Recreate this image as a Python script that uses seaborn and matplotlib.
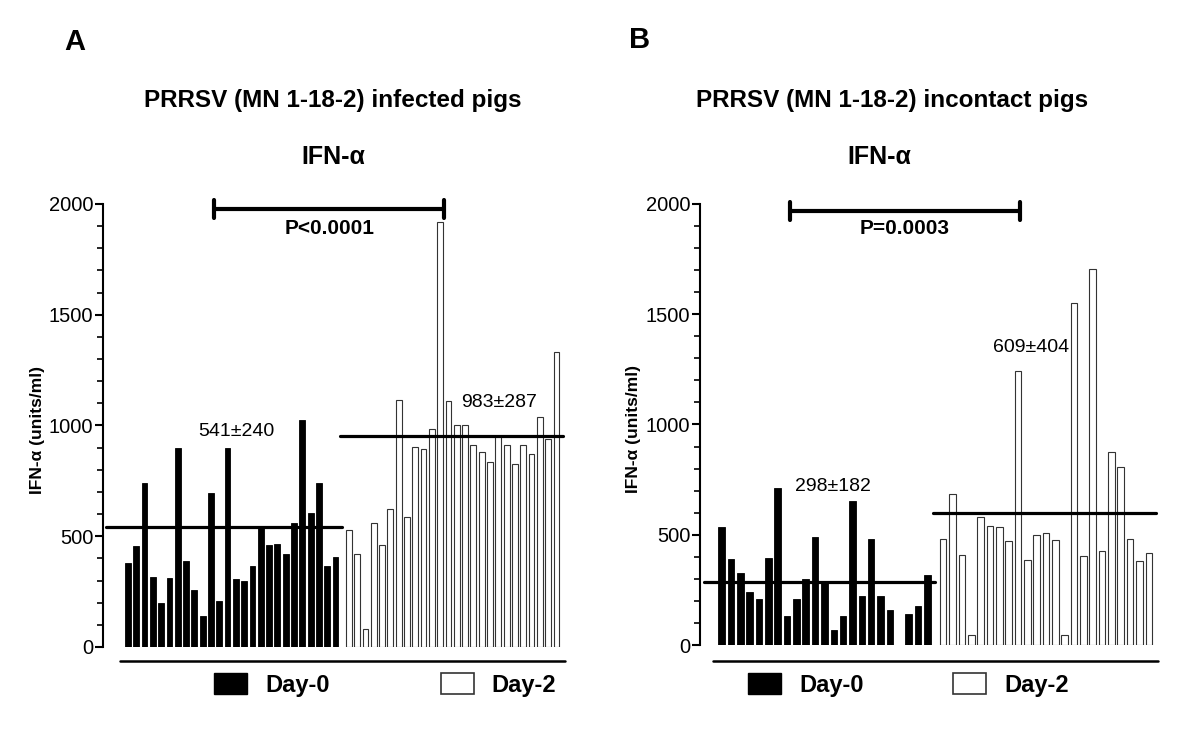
import numpy as np
import pandas as pd
import seaborn as sns
import matplotlib.pyplot as plt
from matplotlib.patches import Patch
from matplotlib.ticker import MultipleLocator

sns.set_style('white')
plt.rcParams['font.family'] = ['Liberation Sans', 'DejaVu Sans']
for k in ('text.color', 'axes.labelcolor', 'xtick.color', 'ytick.color'):
    plt.rcParams[k] = 'black'

# ---- data (units/ml) ----
a_day0 = [381, 456, 739, 318, 200, 313, 900, 389, 256, 140, 693, 208, 899,
          309, 297, 364, 539, 459, 464, 419, 562, 1027, 605, 742, 364, 405]
a_day2 = [527, 419, 83, 559, 462, 625, 1117, 587, 902, 895, 982, 1917, 1111,
          1000, 1000, 911, 882, 834, 952, 911, 825, 911, 869, 1039, 937, 1330]
b_day0 = [534, 389, 328, 239, 209, 396, 711, 133, 210, 299, 491, 280, 68,
          132, 655, 224, 479, 224, 159, np.nan, 142, 175, 316]
b_day2 = [479, 683, 407, 45, 580, 538, 535, 472, 1241, 384, 497, 506, 475,
          45, 1551, 402, 1707, 425, 877, 809, 482, 380, 416]

a_lines = [540, 953]          # horizontal group lines as drawn
b_lines = [287, 597]
a_stats = ['541±240', '983±287']
b_stats = ['298±182', '609±404']
a_p = 'P<0.0001'
b_p = 'P=0.0003'
titles = ['PRRSV (MN 1-18-2) infected pigs', 'PRRSV (MN 1-18-2) incontact pigs']
letters = ['A', 'B']

fig = plt.figure(figsize=(12, 7.29), dpi=100)


def panel(rect, d0, d2, gap, lines, stats, stat_pos, ptxt, pbar, xlim, base, ylab_x):
    ax = fig.add_axes(rect)
    n0 = len(d0)
    x0 = np.arange(n0, dtype=float)
    x2 = n0 - 1 + gap + np.arange(len(d2), dtype=float)
    df0 = pd.DataFrame({'x': x0, 'y': d0}).dropna()
    df2 = pd.DataFrame({'x': x2, 'y': d2})
    sns.barplot(data=df0, x='x', y='y', native_scale=True, color='black',
                saturation=1, width=0.7, errorbar=None, ax=ax,
                edgecolor='black', linewidth=0.6)
    sns.barplot(data=df2, x='x', y='y', native_scale=True, color='white',
                saturation=1, width=0.7, errorbar=None, ax=ax,
                edgecolor='#333333', linewidth=0.8)

    # group lines
    ax.plot([xlim[0] + 0.4, x0[-1] + 0.8], [lines[0]] * 2, color='black', lw=2.3, zorder=5)
    ax.plot([x2[0] - 1.1, x2[-1] + 0.8], [lines[1]] * 2, color='black', lw=2.3, zorder=5)

    for s, (sx, sy) in zip(stats, stat_pos):
        ax.text(sx, sy, s, ha='center', va='center', fontsize=14)

    # significance bracket
    xa, xb, yb = pbar
    ax.plot([xa, xb], [yb, yb], color='black', lw=3, clip_on=False, solid_capstyle='butt')
    for xx in (xa, xb):
        ax.plot([xx, xx], [yb - 40, yb + 40], color='black', lw=3, clip_on=False)
    ax.text((xa + xb) / 2, 1890, ptxt, ha='center', va='center',
            fontsize=15, fontweight='bold')

    ax.set_xlim(*xlim)
    ax.set_ylim(0, 2000)
    ax.yaxis.set_major_locator(MultipleLocator(500))
    ax.yaxis.set_minor_locator(MultipleLocator(100))
    ax.tick_params(axis='y', which='major', length=6, width=1.5, labelsize=14.5,
                   direction='out', left=True, pad=1)
    ax.tick_params(axis='y', which='minor', length=4, width=1.2, direction='out', left=True)
    ax.set_xticks([])
    ax.set_xlabel('')
    ax.set_ylabel('IFN-α (units/ml)', fontsize=12.5, fontweight='bold')
    ax.yaxis.set_label_coords(ylab_x, 0.49)
    for side in ('top', 'right', 'bottom'):
        ax.spines[side].set_visible(False)
    ax.spines['left'].set_linewidth(1.5)
    ax.spines['left'].set_color('black')

    # detached baseline under the bars
    ax.plot(base[:2], [base[2]] * 2, color='black', lw=1.8,
            transform=ax.transAxes, clip_on=False)
    return ax


axA = panel([0.0858, 0.1125, 0.3883, 0.6077], a_day0, a_day2, 1.6, a_lines,
            a_stats, [(13.1, 975), (44.7, 1106)], a_p, (10.4, 38.1, 1977),
            (-3.0, 53.1), (0.036, 0.991, -0.032), -0.125)
axB = panel([0.5833, 0.1152, 0.3833, 0.605], b_day0, b_day2, 1.71, b_lines,
            b_stats, [(11.9, 721), (33.1, 1351)], b_p, (7.3, 31.9, 1968),
            (-2.32, 46.9), (0.028, 0.996, -0.036), -0.128)

handles = [Patch(facecolor='black', edgecolor='black'),
           Patch(facecolor='white', edgecolor='#333333', linewidth=1.2)]
for cx, cs in ((0.321, 4.7), (0.757, 3.8)):
    fig.legend(handles, ['Day-0', 'Day-2'], loc='center', ncol=2,
               bbox_to_anchor=(cx, 1 - 685 / 729), frameon=False,
               prop={'size': 17, 'weight': 'bold'}, handlelength=1.4,
               handleheight=0.95, handletextpad=0.75, columnspacing=cs)

for x, t in zip((0.2775, 0.743), titles):
    fig.text(x, 0.8628, t, ha='center', va='center', fontsize=17.5,
             fontweight='bold')
for x in (0.2775, 0.733):
    fig.text(x, 0.7846, 'IFN-α', ha='center', va='center', fontsize=18,
             fontweight='bold')
for x, y, l in ((0.0625, 0.942, letters[0]), (0.533, 0.945, letters[1])):
    fig.text(x, y, l, ha='center', va='center', fontsize=21, fontweight='bold')

fig.savefig('out.png', dpi=100)
